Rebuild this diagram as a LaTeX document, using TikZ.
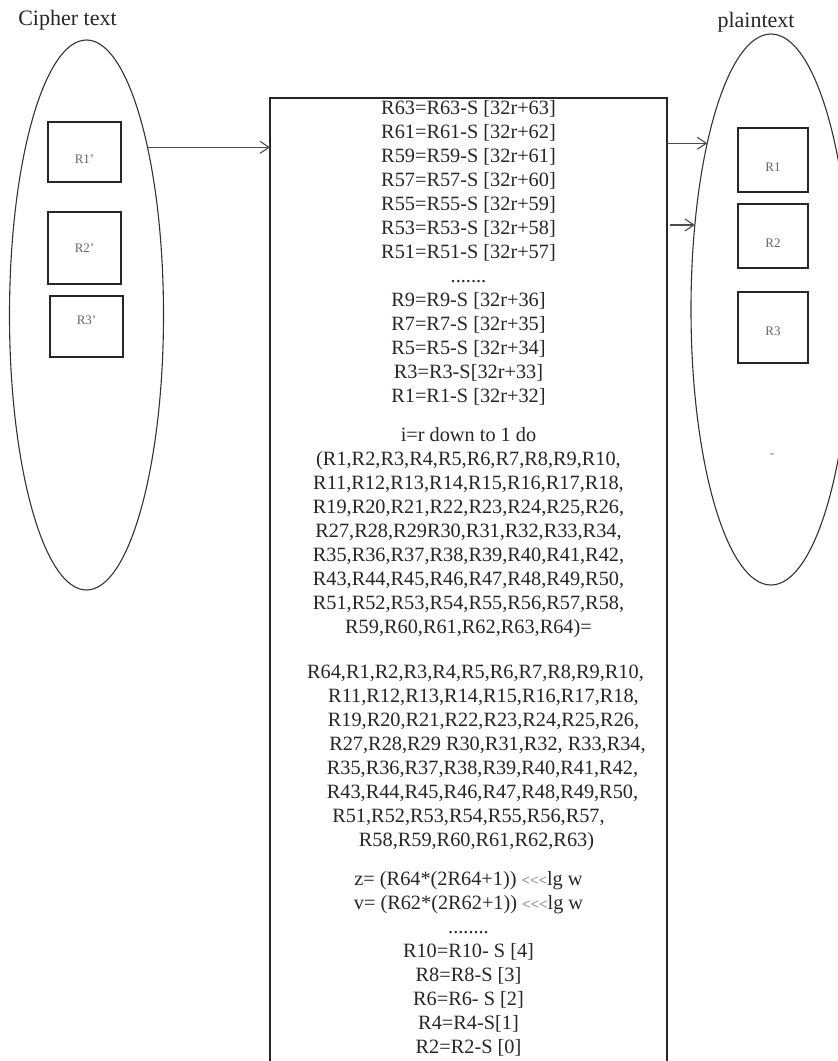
\documentclass[tikz,border=0pt]{standalone}
\usepackage{fontspec}
\setmainfont{Liberation Serif}
\usetikzlibrary{shapes.geometric,arrows.meta}
\newcommand{\rotl}{{\fontsize{15}{15}\selectfont\color{black!60}<\kern0pt<\kern0pt<}}
\begin{document}
\begin{tikzpicture}[x=1pt,y=-1pt,
  oval/.style={ellipse, draw=black!80, line width=1.1pt, inner sep=0pt, outer sep=0pt},
  regbox/.style={rectangle, draw=black!85, line width=1.3pt, inner sep=0pt, outer sep=0pt},
  reglabel/.style={font=\fontsize{13}{15}\selectfont, text=black!60},
  title/.style={font=\fontsize{22}{26}\selectfont, text=black!85},
  flow/.style={draw=black!70, line width=1.1pt, -{Straight Barb[length=9pt,width=12pt,line width=1.1pt]}},
  algtext/.style={anchor=north, align=center, inner sep=0pt, font=\fontsize{20.3}{24}\selectfont, text=black!85}
]
\useasboundingbox (0,0) rectangle (838,1061);
\clip (0,0) rectangle (838,1061);

% titles
\node[title] (ctitle) at (67.5,20) {Cipher text};
\node[title] (ptitle) at (756,22) {plaintext};

% ellipses
\node[oval, minimum width=154pt, minimum height=550pt] (cipher) at (86.5,315) {};
\node[oval, minimum width=160pt, minimum height=551pt] (plain) at (771,309.5) {};

% cipher registers
\node[regbox, minimum width=73pt, minimum height=60pt, label={[reglabel,yshift=-7pt]center:R1'}] (c1) at (84.5,152) {};
\node[regbox, minimum width=73pt, minimum height=72pt, label={[reglabel]center:R2'}] (c2) at (84.5,248) {};
\node[regbox, minimum width=73pt, minimum height=61pt, label={[reglabel,yshift=6.5pt]center:R3'}] (c3) at (86.5,326.5) {};

% plain registers
\node[regbox, minimum width=70pt, minimum height=64pt, label={[reglabel,yshift=-7pt]center:R1}] (p1) at (773,160) {};
\node[regbox, minimum width=70pt, minimum height=64pt, label={[reglabel,yshift=-7pt]center:R2}] (p2) at (773,236) {};
\node[regbox, minimum width=70pt, minimum height=71pt, label={[reglabel,yshift=-3.5pt]center:R3}] (p3) at (773,327.5) {};
\node[reglabel] (pdash) at (772,456) {-};

% main process box
\node[regbox, anchor=north west, minimum width=397pt, minimum height=1000pt, line width=1.5pt] (proc) at (270,98) {};

\node[algtext] (alg) at (468.5,100) {%
R63=R63-S [32r+63]\\
R61=R61-S [32r+62]\\
R59=R59-S [32r+61]\\
R57=R57-S [32r+60]\\
R55=R55-S [32r+59]\\
R53=R53-S [32r+58]\\
R51=R51-S [32r+57]\\
.......\\
R9=R9-S [32r+36]\\
R7=R7-S [32r+35]\\
R5=R5-S [32r+34]\\
R3=R3-S[32r+33]\\
R1=R1-S [32r+32]\\[15pt]
i=r down to 1 do\\
(R1,R2,R3,R4,R5,R6,R7,R8,R9,R10,\\
R11,R12,R13,R14,R15,R16,R17,R18,\\
R19,R20,R21,R22,R23,R24,R25,R26,\\
R27,R28,R29R30,R31,R32,R33,R34,\\
R35,R36,R37,R38,R39,R40,R41,R42,\\
R43,R44,R45,R46,R47,R48,R49,R50,\\
R51,R52,R53,R54,R55,R56,R57,R58,\\
R59,R60,R61,R62,R63,R64)=\\[21pt]
\hspace*{14pt}R64,R1,R2,R3,R4,R5,R6,R7,R8,R9,R10,\\
\hspace*{30pt}R11,R12,R13,R14,R15,R16,R17,R18,\\
\hspace*{30pt}R19,R20,R21,R22,R23,R24,R25,R26,\\
\hspace*{38pt}R27,R28,R29 R30,R31,R32, R33,R34,\\
\hspace*{28pt}R35,R36,R37,R38,R39,R40,R41,R42,\\
\hspace*{28pt}R43,R44,R45,R46,R47,R48,R49,R50,\\
R51,R52,R53,R54,R55,R56,R57,\\
\hspace*{16pt}R58,R59,R60,R61,R62,R63)\\[15pt]
z= (R64*(2R64+1)) \rotl lg w\\
v= (R62*(2R62+1)) \rotl lg w\\
........\\
R10=R10- S [4]\\
R8=R8-S [3]\\
R6=R6- S [2]\\
R4=R4-S[1]\\
R2=R2-S [0]};

% connectors
\path (plain.132.4 -| proc.east) coordinate (a3s);
\draw[flow] (cipher.70) -- (cipher.70 -| proc.west);
\draw[flow] (plain.111.7 -| proc.east) -- (plain.111.7);
\draw[flow] ([xshift=3pt]a3s) -- (plain.132.4);
\end{tikzpicture}
\end{document}
